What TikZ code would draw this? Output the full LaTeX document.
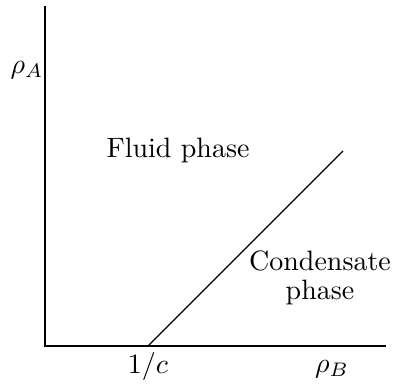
\documentclass[tikz,border=0pt]{standalone}
\usetikzlibrary{positioning}

\begin{document}
\begin{tikzpicture}[x=0.357pt, y=-0.357pt, every node/.style={inner sep=0pt}]
                \useasboundingbox (0,0) rectangle (393,385);
                \coordinate (origin) at (45,346);
                \coordinate (ytop) at (45,6);
                \coordinate (xend) at (386,346);
                \coordinate (cstart) at (148,346);
                \coordinate (cend) at (343,151);
                \draw (ytop) -- (origin) -- (xend);
                \draw (cstart) -- (cend);
                \node (rhoA) at (27,70) {$\rho_A$};
                \node (rhoB) at (332,369) {$\rho_B$};
                \node (invc) at (148,366) {$1/c$};
                \node (fluid) at (178,150) {Fluid phase};
                \node[align=center] (cond) at (320,278) {Condensate\\[-1.8pt]phase};
            \end{tikzpicture}
\end{document}
